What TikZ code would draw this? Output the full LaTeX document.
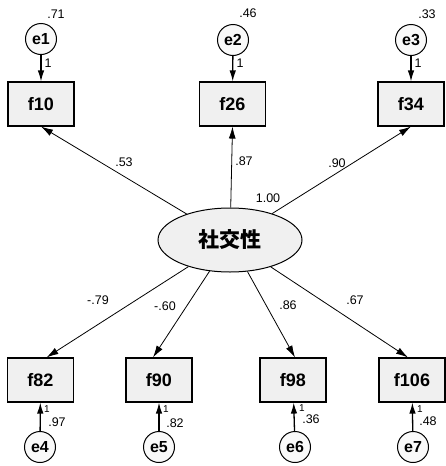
\documentclass[tikz,border=0pt]{standalone}
\usepackage{fontspec}
\setmainfont{Liberation Sans}
\newfontfamily\cjk{Noto Sans CJK JP}
\usetikzlibrary{arrows.meta,shapes.geometric}
\begin{document}
\begin{tikzpicture}[x=1pt,y=-1pt,
  obs/.style={draw, line width=1.1pt, fill=gray!12, minimum width=66pt, minimum height=44pt, inner sep=0pt, font=\fontsize{18}{18}\selectfont\bfseries},
  err/.style={draw, circle, line width=1pt, fill=gray!5, minimum size=31pt, inner sep=0pt, font=\fontsize{16}{16}\selectfont\bfseries},
  lat/.style={draw, ellipse, line width=1pt, fill=gray!12, minimum width=144pt, minimum height=64pt, inner sep=0pt, font=\cjk\fontsize{21}{21}\selectfont\bfseries},
  lbl/.style={font=\fontsize{12.5}{12.5}\selectfont, inner sep=0pt},
  sml/.style={font=\fontsize{10}{10}\selectfont, inner sep=0pt},
  load/.style={-{Latex[length=12pt,width=7pt]}, line width=0.8pt},
  errarr/.style={-{Latex[length=11pt,width=6.5pt]}, line width=1.3pt}]
\useasboundingbox (0,0) rectangle (446,466);
% latent
\node[lat] (ell) at (230,240) {社交性};
% observed
\node[obs] (f10) at (41,104) {f10};
\node[obs] (f26) at (232.5,104) {f26};
\node[obs] (f34) at (411,104) {f34};
\node[obs] (f82) at (40.5,380) {f82};
\node[obs] (f90) at (159,380) {f90};
\node[obs] (f98) at (293,380) {f98};
\node[obs] (f106) at (412,380) {f106};
% errors
\node[err] (e1) at (41,39) {e1};
\node[err] (e2) at (233,40) {e2};
\node[err] (e3) at (411,40) {e3};
\node[err] (e4) at (40,447) {e4};
\node[err] (e5) at (159,447) {e5};
\node[err] (e6) at (295,447) {e6};
\node[err] (e7) at (413,447) {e7};
% loadings
\draw[load] (ell) -- (f10.south);
\draw[load] (ell) -- (f26.south);
\draw[load] (ell) -- (f34.south);
\draw[load] (ell) -- ([xshift=6pt]f82.north);
\draw[load] (ell) -- ([xshift=-6pt]f90.north);
\draw[load] (ell) -- ([xshift=2pt]f98.north);
\draw[load] (ell) -- ([xshift=-4pt]f106.north);
% error paths
\draw[errarr] (e1) -- (f10);
\draw[errarr] (e2) -- (f26);
\draw[errarr] (e3) -- (f34);
\draw[errarr] (e4) -- (f82);
\draw[errarr] (e5) -- (f90);
\draw[errarr] (e6) -- (f98);
\draw[errarr] (e7) -- (f106);
% labels
\node[lbl] (l71) at (56,14) {.71};
\node[lbl] (l46) at (248,13) {.46};
\node[lbl] (l33) at (427,14) {.33};
\node[lbl] (o1) at (48,63) {1};
\node[lbl] (o2) at (240,63) {1};
\node[lbl] (o3) at (418,63) {1};
\node[lbl] (l53) at (124,162) {.53};
\node[lbl] (l87) at (244,161) {.87};
\node[lbl] (l100) at (268,198) {1.00};
\node[lbl] (l90) at (337,163) {.90};
\node[lbl] (l79) at (98,300) {-.79};
\node[lbl] (l60) at (165,306) {-.60};
\node[lbl] (l86) at (288,305) {.86};
\node[lbl] (l67) at (355,300) {.67};
\node[sml] (u4) at (47,409) {1};
\node[sml] (u5) at (166,409) {1};
\node[sml] (u6) at (302,408) {1};
\node[sml] (u7) at (420,409) {1};
\node[lbl] (l97) at (57,422) {.97};
\node[lbl] (l82) at (175,423) {.82};
\node[lbl] (l36) at (311,419) {.36};
\node[lbl] (l48) at (428,421) {.48};
\end{tikzpicture}
\end{document}
